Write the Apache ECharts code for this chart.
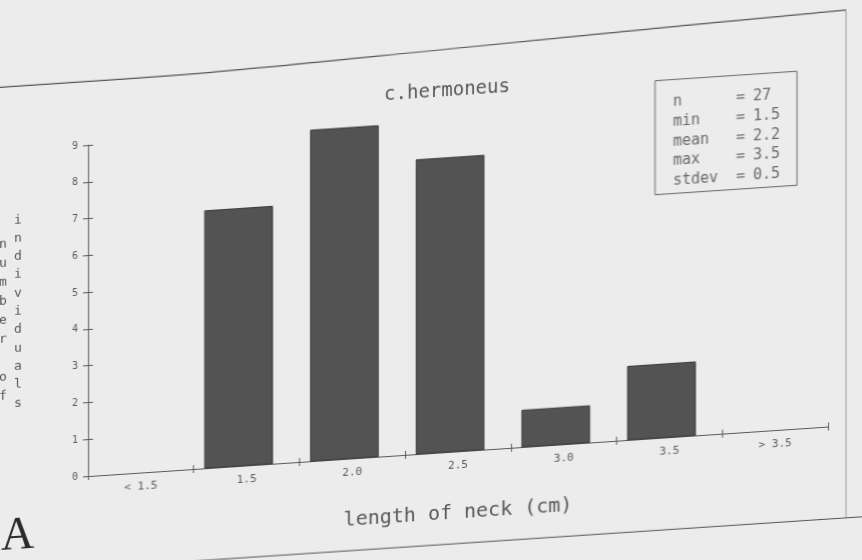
<!DOCTYPE html>
<html>
<head>
<meta charset="utf-8">
<script src="https://cdn.jsdelivr.net/npm/echarts@6/dist/echarts.min.js"></script>
<style>
  html, body { margin: 0; padding: 0; width: 862px; height: 560px; overflow: hidden; background: #ececec; }
  #chart { width: 862px; height: 620px; transform: skewY(-3.83deg); transform-origin: 0 0; }
</style>
</head>
<body>
<div id="chart"></div>
<script>
// ---- data ----
const categories = ['< 1.5', '1.5', '2.0', '2.5', '3.0', '3.5', '> 3.5'];
const counts = [0, 7, 9, 8, 1, 2, 0];
const yMax = 9;
const yInterval = 1;
const statLabels = ['n', 'min', 'mean', 'max', 'stdev'];
const statValues = ['27', '1.5', '2.2', '3.5', '0.5'];
const chartTitle = 'c.hermoneus';
const xTitle = 'length of neck (cm)';
const yTitleColumns = ['number of', 'individuals'];
const panelLabel = 'A';

// ---- styling ----
const mono = 'DejaVu Sans Mono';
const ink = '#5a5a5a';
const textInk = '#595959';

const chart = echarts.init(document.getElementById('chart'), null, { renderer: 'canvas' });

function renderBar(params, api) {
  const v = api.value(1);
  if (!v) return null;
  const top = api.coord([api.value(0), v]);
  const base = api.coord([api.value(0), 0]);
  const band = api.size([1, 0])[0];
  const w = band * 0.64;
  const shift = -band * 0.075;
  return {
    type: 'rect',
    shape: { x: top[0] - w / 2 + shift, y: top[1], width: w, height: base[1] - top[1] },
    style: { fill: '#535353', stroke: '#3a3a3a', lineWidth: 1 }
  };
}

const vert = s => s.split('').join('\n');

const option = {
  animation: false,
  backgroundColor: '#ececec',
  grid: { left: 88, right: 34, top: 151, bottom: 138 },
  xAxis: [
    {
      type: 'category', data: categories, boundaryGap: true,
      axisLine: { lineStyle: { color: ink, width: 1 } },
      axisTick: { show: true, length: 4, lineStyle: { color: ink } },
      axisLabel: { margin: 9, fontSize: 11, color: textInk, fontFamily: mono },
      splitLine: { show: false },
      name: xTitle, nameLocation: 'middle', nameGap: 52,
      nameTextStyle: { fontSize: 20, color: textInk, fontFamily: mono }
    },
    {
      type: 'category', data: categories, boundaryGap: true, position: 'bottom',
      axisLine: { show: false },
      axisTick: { show: true, inside: true, length: 4, lineStyle: { color: ink } },
      axisLabel: { show: false }, splitLine: { show: false }
    }
  ],
  yAxis: [
    {
      type: 'value', min: 0, max: yMax, interval: yInterval,
      axisLine: { show: true, lineStyle: { color: ink, width: 1 } },
      axisTick: { show: true, length: 5, lineStyle: { color: ink } },
      axisLabel: { margin: 10, fontSize: 10, color: textInk, fontFamily: mono },
      splitLine: { show: false }
    },
    {
      type: 'value', min: 0, max: yMax, interval: yInterval, position: 'left',
      axisLine: { show: false },
      axisTick: { show: true, inside: true, length: 5, lineStyle: { color: ink } },
      axisLabel: { show: false }, splitLine: { show: false }
    }
  ],
  series: [{
    type: 'custom',
    xAxisIndex: 0, yAxisIndex: 0,
    data: counts.map((v, i) => [i, v]),
    encode: { x: 0, y: 1 },
    renderItem: renderBar
  }],
  graphic: [
    // paper edges of the scanned sheet
    { type: 'polyline', silent: true,
      shape: { points: [[0, 87.3], [200, 86.7], [450, 79], [700, 70.9], [846, 66.7]], smooth: 0.3 },
      style: { stroke: '#555', lineWidth: 1.2, fill: null } },
    { type: 'line', silent: true,
      shape: { x1: 846, y1: 66.7, x2: 846, y2: 574 },
      style: { stroke: '#9a9a9a', lineWidth: 1 } },
    { type: 'line', silent: true,
      shape: { x1: 180, y1: 574, x2: 862, y2: 574.5 },
      style: { stroke: '#555', lineWidth: 1.2 } },
    // title
    { type: 'text', silent: true,
      style: { text: chartTitle, x: 447, y: 121, align: 'center', verticalAlign: 'middle',
               font: '19px "DejaVu Sans Mono"', fill: textInk } },
    // y-axis title, one letter per line in two columns
    { type: 'text', silent: true,
      style: { text: vert(yTitleColumns[0]), x: 3, y: 235.5, align: 'center', verticalAlign: 'top',
               font: '13px "DejaVu Sans Mono"', lineHeight: 19, fill: textInk } },
    { type: 'text', silent: true,
      style: { text: vert(yTitleColumns[1]), x: 18, y: 212, align: 'center', verticalAlign: 'top',
               font: '13px "DejaVu Sans Mono"', lineHeight: 18.3, fill: textInk } },
    // statistics box
    { type: 'rect', silent: true,
      shape: { x: 655, y: 124.6, width: 142, height: 114 },
      style: { stroke: '#666', lineWidth: 1, fill: null } },
    { type: 'text', silent: true,
      style: { text: statLabels.join('\n'), x: 673, y: 137.5, align: 'left', verticalAlign: 'top',
               font: '15px "DejaVu Sans Mono"', lineHeight: 19.7, fill: '#6a6a6a' } },
    { type: 'text', silent: true,
      style: { text: statLabels.map(() => '=').join('\n'), x: 736, y: 137.5, align: 'left', verticalAlign: 'top',
               font: '15px "DejaVu Sans Mono"', lineHeight: 19.7, fill: '#6a6a6a' } },
    { type: 'text', silent: true,
      style: { text: statValues.join('\n'), x: 753, y: 137.5, align: 'left', verticalAlign: 'top',
               font: '15px "DejaVu Sans Mono"', lineHeight: 19.7, fill: '#6a6a6a' } },
    // panel letter
    { type: 'text', silent: true,
      style: { text: panelLabel, x: 1, y: 538, align: 'left', verticalAlign: 'middle',
               font: '46px "Liberation Serif"', fill: '#2a2a2a' } }
  ]
};

chart.setOption(option);
</script>
</body>
</html>
